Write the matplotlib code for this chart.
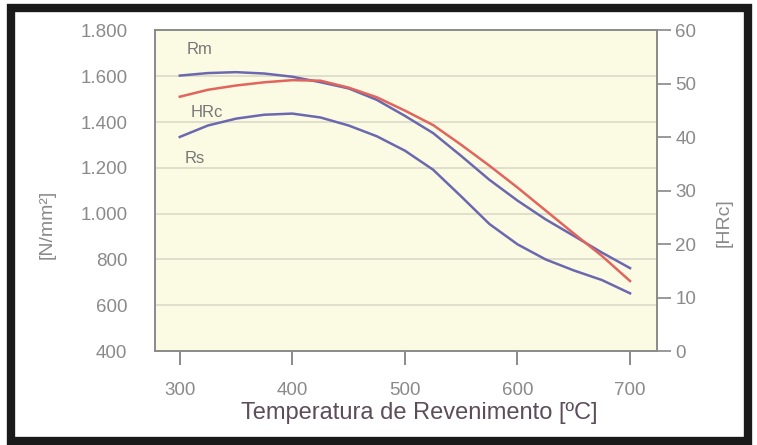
import numpy as np
import matplotlib
matplotlib.use("Agg")
import matplotlib.pyplot as plt
from matplotlib.patches import Rectangle
from matplotlib.ticker import FuncFormatter

# Temperatura de revenimento [ºC]
temperatura = [300, 325, 350, 375, 400, 425, 450, 475, 500, 525, 550, 575, 600, 625, 650, 675, 700]
# Resistencia a traccion Rm [N/mm²]
rm = [1603, 1614, 1618, 1612, 1598, 1574, 1547, 1497, 1427, 1352, 1252, 1148, 1057, 975, 903, 830, 762]
# Limite elastico Rs [N/mm²]
rs = [1335, 1385, 1415, 1432, 1437, 1420, 1385, 1338, 1275, 1192, 1075, 955, 866, 800, 752, 710, 652]
# Dureza HRc
hrc = [47.6, 48.9, 49.7, 50.3, 50.7, 50.6, 49.3, 47.5, 45.0, 42.3, 38.6, 34.7, 30.6, 26.3, 22.0, 17.8, 13.1]

ticks_izq = [400, 600, 800, 1000, 1200, 1400, 1600, 1800]
ticks_der = [0, 10, 20, 30, 40, 50, 60]
ticks_x = [300, 400, 500, 600, 700]

azul = "#6b68b0"
rojo = "#e2645c"
gris = "#8a8a8a"

plt.rcParams['font.family'] = ['Liberation Sans', 'DejaVu Sans']

fig = plt.figure(figsize=(7.57, 4.45), dpi=100)
fig.patch.set_facecolor("white")

ax = fig.add_axes([0.2048, 0.2112, 0.6632, 0.7203])
ax.set_facecolor("#fbfbe4")
ax.set_xlim(278, 724)
ax.set_ylim(400, 1800)

for v in ticks_izq[1:-1]:
    ax.axhline(v, color="#d9d7c4", lw=1.1, zorder=1)

ax.plot(temperatura, rm, color=azul, lw=1.8, zorder=3, solid_joinstyle="round")
ax.plot(temperatura, rs, color=azul, lw=1.8, zorder=3, solid_joinstyle="round")

ax2 = ax.twinx()
ax2.set_ylim(0, 60)
ax2.plot(temperatura, hrc, color=rojo, lw=1.8, zorder=2, solid_joinstyle="round")

ax.text(318, 1715, "Rm", color="#777777", fontsize=12, ha="center", va="center")
ax.text(324, 1442, "HRc", color="#777777", fontsize=12, ha="center", va="center")
ax.text(313, 1243, "Rs", color="#777777", fontsize=12, ha="center", va="center")

ax.set_yticks(ticks_izq)
ax.yaxis.set_major_formatter(FuncFormatter(lambda v, p: f"{int(v):,}".replace(",", ".")))
ax.tick_params(axis="y", length=0, pad=20, labelsize=13.5, labelcolor=gris)
ax.set_xticks(ticks_x)
ax.tick_params(axis="x", direction="out", length=10, width=1.2, color="#777777",
               pad=12, labelsize=13.5, labelcolor=gris)

ax2.set_yticks(ticks_der)
ax2.tick_params(axis="y", direction="out", length=10, width=1.2, color="#888888",
                pad=3, labelsize=13.5, labelcolor=gris)

for a in (ax, ax2):
    for s in a.spines.values():
        s.set_color("#8a8a8a")
        s.set_linewidth(1.2)

fig.text(47 / 757, 1 - 224 / 445, "[N/mm²]", color=gris, fontsize=14,
         rotation=90, ha="center", va="center")
fig.text(724 / 757, 1 - 223 / 445, "[HRc]", color=gris, fontsize=14,
         rotation=90, ha="center", va="center")

fig.text(0.554, 0.072, "Temperatura de Revenimento [ºC]", color="#5c4d58",
         fontsize=17, ha="center", va="center",
         bbox=dict(facecolor="white", edgecolor="none", pad=3))

# marco negro del recuadro
fig.patches.append(Rectangle((11 / 757, 4 / 445), 737 / 757, 433 / 445,
                             transform=fig.transFigure, fill=False,
                             edgecolor="#1a1a1a", lw=6, zorder=10))

fig.savefig("out.png", dpi=100)
